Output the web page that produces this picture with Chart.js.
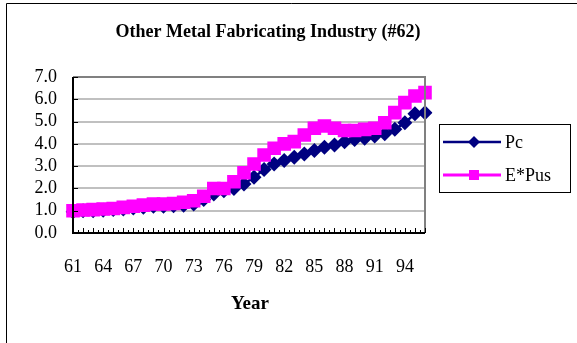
<!DOCTYPE html>
<html>
<head>
<meta charset="utf-8">
<script src="https://cdn.jsdelivr.net/npm/chart.js@4"></script>
<style>
  body { margin: 0; background: #fff; }
  canvas { display: block; }
</style>
</head>
<body>
<canvas id="metalChart" width="577" height="343"></canvas>
<script>
const years = ['61','62','63','64','65','66','67','68','69','70','71','72','73','74','75','76','77','78',
  '79','80','81','82','83','84','85','86','87','88','89','90','91','92','93','94','95','96'];
const pc = [0.95, 1.0, 1.0, 1.02, 1.05, 1.08, 1.12, 1.15, 1.2, 1.2, 1.22, 1.25, 1.3, 1.5, 1.75, 1.9, 2.0, 2.2,
  2.5, 2.85, 3.1, 3.25, 3.4, 3.55, 3.7, 3.85, 3.95, 4.1, 4.2, 4.25, 4.35, 4.45, 4.65, 4.95, 5.35, 5.4];
const ePus = [1.0, 1.03, 1.05, 1.08, 1.1, 1.15, 1.2, 1.25, 1.3, 1.3, 1.32, 1.38, 1.45, 1.65, 2.0, 2.0, 2.3, 2.7,
  3.1, 3.5, 3.8, 4.0, 4.1, 4.4, 4.7, 4.8, 4.7, 4.6, 4.6, 4.65, 4.7, 4.95, 5.4, 5.85, 6.15, 6.3];
const seriesNames = ['Pc', 'E*Pus'];

const serif = '"Liberation Serif", "Times New Roman", serif';
const NAVY = '#000080';
const PINK = '#ff00ff';

// frame, title, axis title, inside tick marks and legend box
const decorations = {
  id: 'decorations',
  beforeDraw(chart) {
    const c = chart.ctx;
    c.save();
    c.fillStyle = '#fff';
    c.fillRect(0, 0, chart.width, chart.height);
    c.restore();
  },
  afterDraw(chart) {
    const c = chart.ctx;
    const area = chart.chartArea;
    const x = chart.scales.x;
    const y = chart.scales.y;
    c.save();

    // outer frame
    c.strokeStyle = '#000';
    c.lineWidth = 1;
    c.beginPath();
    c.moveTo(6.5, chart.height);
    c.lineTo(6.5, 3.5);
    c.lineTo(chart.width, 3.5);
    c.stroke();

    // plot frame top / right
    c.strokeStyle = '#808080';
    c.lineWidth = 2;
    c.beginPath();
    c.moveTo(area.left, area.top);
    c.lineTo(area.right, area.top);
    c.lineTo(area.right, area.bottom);
    c.stroke();

    // axis lines
    c.strokeStyle = '#000';
    c.lineWidth = 2;
    c.beginPath();
    c.moveTo(area.left, area.top);
    c.lineTo(area.left, area.bottom);
    c.lineTo(area.right, area.bottom);
    c.stroke();

    // tick marks inside
    c.lineWidth = 1;
    c.beginPath();
    for (let i = 0; i < years.length; i++) {
      const px = Math.round(x.getPixelForValue(i)) + 0.5;
      c.moveTo(px, area.bottom);
      c.lineTo(px, area.bottom - 5);
      if (i < years.length - 1) {
        const mx = Math.round((x.getPixelForValue(i) + x.getPixelForValue(i + 1)) / 2) + 0.5;
        c.moveTo(mx, area.bottom);
        c.lineTo(mx, area.bottom - 3);
      }
    }
    for (let v = 0; v <= 7; v++) {
      const py = Math.round(y.getPixelForValue(v)) + 0.5;
      c.moveTo(area.left, py);
      c.lineTo(area.left + 5, py);
    }
    c.stroke();

    // titles
    c.fillStyle = '#000';
    c.textAlign = 'center';
    c.textBaseline = 'middle';
    c.font = 'bold 18px ' + serif;
    c.fillText('Other Metal Fabricating Industry (#62)', 268, 32);
    c.font = 'bold 19px ' + serif;
    c.fillText('Year', 250, 304);

    // legend
    c.strokeStyle = '#000';
    c.lineWidth = 1;
    c.strokeRect(439.5, 124.5, 131, 68);
    const rows = [
      { label: seriesNames[0], color: NAVY, y: 142, shape: 'diamond' },
      { label: seriesNames[1], color: PINK, y: 175, shape: 'square' }
    ];
    rows.forEach(r => {
      c.strokeStyle = r.color;
      c.fillStyle = r.color;
      c.lineWidth = r.shape === 'square' ? 3 : 2.5;
      c.beginPath();
      c.moveTo(443, r.y);
      c.lineTo(501, r.y);
      c.stroke();
      c.beginPath();
      if (r.shape === 'diamond') {
        c.moveTo(474, r.y - 6);
        c.lineTo(480, r.y);
        c.lineTo(474, r.y + 6);
        c.lineTo(468, r.y);
        c.closePath();
      } else {
        c.rect(469, r.y - 5, 10, 10);
      }
      c.fill();
      c.fillStyle = '#000';
      c.textAlign = 'left';
      c.font = '18px ' + serif;
      c.fillText(r.label, 505, r.y + 1);
    });
    c.restore();
  }
};

new Chart(document.getElementById('metalChart').getContext('2d'), {
  type: 'line',
  data: {
    labels: years,
    datasets: [{
      label: seriesNames[0],
      data: pc,
      borderColor: NAVY,
      backgroundColor: NAVY,
      borderWidth: 2.5,
      pointStyle: 'rectRot',
      pointRadius: 7.5,
      pointBorderWidth: 0,
      tension: 0,
      order: 2
    }, {
      label: seriesNames[1],
      data: ePus,
      borderColor: PINK,
      backgroundColor: PINK,
      borderWidth: 3,
      pointStyle: 'rect',
      pointRadius: 9.6,
      pointBorderWidth: 0,
      tension: 0,
      order: 1
    }]
  },
  options: {
    responsive: false,
    animation: false,
    events: [],
    layout: {
      padding: { left: 0, top: 77, right: 152, bottom: 0 }
    },
    plugins: {
      legend: { display: false },
      title: { display: false },
      tooltip: { enabled: false }
    },
    scales: {
      x: {
        offset: false,
        grid: { display: false, drawTicks: false },
        border: { display: false },
        afterFit: (scale) => { scale.height = 110; },
        ticks: {
          autoSkip: false,
          maxRotation: 0,
          padding: 23,
          color: '#000',
          font: { family: serif, size: 18 },
          callback: function (val, i) {
            return i % 3 === 0 ? years[i] : '';
          }
        }
      },
      y: {
        min: 0,
        max: 7,
        grid: {
          color: (ctx) => (ctx.tick && ctx.tick.value === 0 ? 'rgba(0,0,0,0)' : '#c0c0c0'),
          lineWidth: 2,
          drawTicks: false
        },
        border: { display: false },
        afterFit: (scale) => { scale.width = 73; },
        ticks: {
          autoSkip: false,
          stepSize: 1,
          padding: 16,
          color: '#000',
          font: { family: serif, size: 18 },
          callback: (v) => v.toFixed(1)
        }
      }
    }
  },
  plugins: [decorations]
});
</script>
</body>
</html>
